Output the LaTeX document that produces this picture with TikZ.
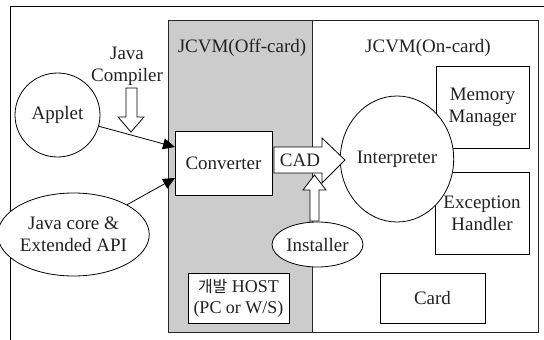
\documentclass[tikz,border=0pt]{standalone}
\usepackage{fontspec}
\setmainfont{Liberation Serif}
\newfontfamily\krfont{Noto Sans CJK KR}
\usetikzlibrary{shapes.geometric,arrows.meta}
\definecolor{txt}{HTML}{222222}
\definecolor{offgray}{HTML}{CCCCCC}
\tikzset{
  every node/.style={font=\fontsize{19}{22}\selectfont, text=txt, inner sep=0pt},
  boxn/.style={draw=black, line width=0.8pt, fill=white, rectangle, align=center},
  elln/.style={draw=black, line width=0.8pt, fill=white, ellipse, align=center},
  lbl/.style={align=center},
  feed/.style={line width=0.8pt, -{Triangle[length=12pt,width=11pt]}},
  blockarr/.style={draw=black, line width=0.8pt, fill=white, line join=miter},
}
\begin{document}
\begin{tikzpicture}[x=1pt,y=-1pt]
\useasboundingbox (0,0) rectangle (544,340);
% outer frame (partial)
\draw[line width=0.8pt] (544,6) -- (10,6) -- (10,340);
% regions
\node[draw=black!85, line width=0.8pt, fill=offgray, minimum width=144pt, minimum height=312pt, anchor=north west] (off) at (168,20) {};
\node[draw=black!85, line width=0.8pt, fill=white, minimum width=226pt, minimum height=312pt, anchor=north west] (on) at (312,20) {};
\node[lbl] (offt) at (242,48) {JCVM(Off-card)};
\node[lbl] (ont) at (428,48) {JCVM(On-card)};
% boxes
\node[boxn, minimum width=97pt, minimum height=64pt] (conv) at (223.5,163) {Converter};
\node[boxn, minimum width=93pt, minimum height=82pt] (mem) at (482.5,107) {Memory\\Manager};
\node[boxn, minimum width=94pt, minimum height=82pt] (exc) at (482,213) {Exception\\Handler};
\node[boxn, minimum width=105pt, minimum height=50pt] (card) at (432.5,298) {Card};
\node[boxn, minimum width=101pt, minimum height=50pt, font=\fontsize{18}{21}\selectfont] (host) at (238.5,298) {{\krfont\fontsize{16}{21}\selectfont 개발} HOST\\(PC or W/S)};
% ellipses
\node[elln, minimum width=102pt, minimum height=126pt] (interp) at (397,159) {Interpreter};
\node[elln, minimum width=91pt, minimum height=45pt] (inst) at (317.5,244.5) {Installer};
\node[elln, minimum width=85pt, minimum height=84pt] (applet) at (57.5,115) {Applet};
\node[elln, minimum width=123pt, minimum height=83pt] (core) at (73.5,234.5) {Java core \&\\Extended API};
% Java compiler
\node[lbl] (jc) at (127,66) {Java\\Compiler};
\draw[blockarr] (126,88) -- (137,88) -- (137,117) -- (144,117) -- (131,132) -- (118,117) -- (126,117) -- cycle;
% feed arrows
\coordinate (convin1) at (175,147);
\coordinate (convin2) at (175,178);
\draw[feed] (applet) -- (convin1);
\draw[feed] (core) -- (convin2);
% CAD arrow
\draw[blockarr] (274,147) -- (322,147) -- (322,138) -- (345,160) -- (322,183) -- (322,173) -- (274,173) -- cycle;
\node[lbl] (cad) at (300,160) {CAD};
% Installer arrow
\draw[blockarr] (310,221) -- (310,190) -- (303,190) -- (314.5,175) -- (326,190) -- (319,190) -- (319,221) -- cycle;
\end{tikzpicture}
\end{document}
